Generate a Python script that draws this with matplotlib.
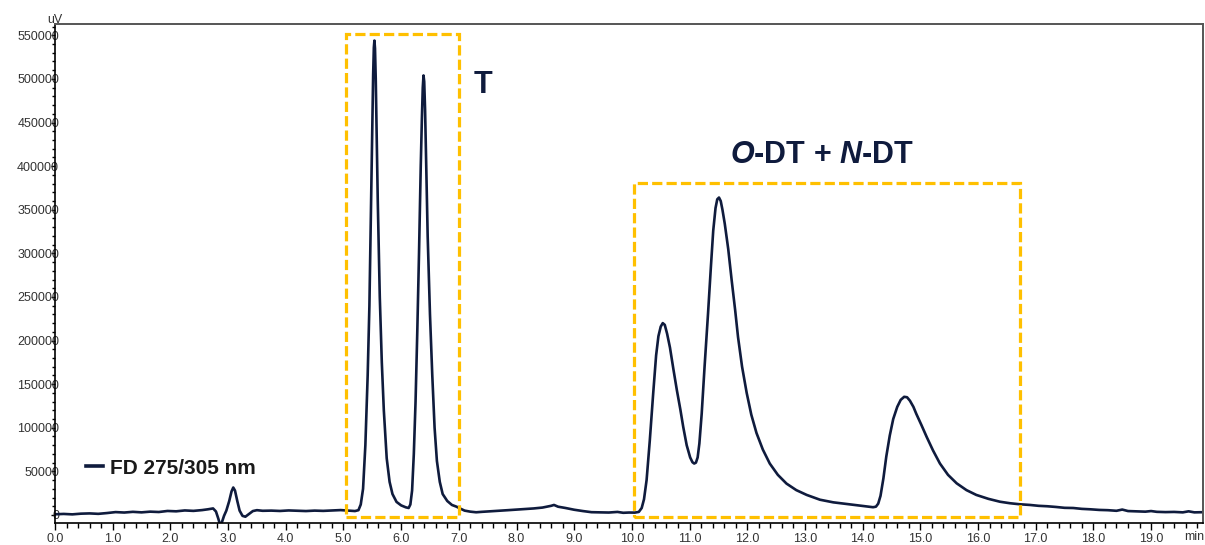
import matplotlib
matplotlib.use("Agg")
import matplotlib.pyplot as plt
from matplotlib.ticker import MultipleLocator
from matplotlib.patches import Rectangle

plt.rcParams['font.family'] = ['Liberation Sans', 'DejaVu Sans']
plt.rcParams['mathtext.fontset'] = 'custom'
plt.rcParams['mathtext.rm'] = 'Liberation Sans'
plt.rcParams['mathtext.bf'] = 'Liberation Sans:bold'
plt.rcParams['mathtext.bfit'] = 'Liberation Sans:bold:italic'

# retention time (min) and detector signal (uV)
time_min = [
    0.0, 0.15, 0.3, 0.45, 0.6, 0.75, 0.9, 1.05, 1.2, 1.35, 1.5, 1.65, 1.8, 1.95,
    2.1, 2.25, 2.4, 2.55, 2.65, 2.74, 2.79, 2.83, 2.86, 2.89, 2.93, 2.97, 3.02,
    3.06, 3.09, 3.12, 3.16, 3.2, 3.25, 3.3, 3.36, 3.43, 3.5, 3.6, 3.75, 3.9,
    4.05, 4.2, 4.35, 4.5, 4.65, 4.8, 4.95, 5.1, 5.2, 5.26,
    5.30, 5.34, 5.38, 5.42, 5.45, 5.48, 5.50, 5.515, 5.527, 5.537, 5.547, 5.56,
    5.575, 5.595, 5.63, 5.665, 5.70, 5.75, 5.80, 5.85, 5.92, 6.0, 6.08, 6.13,
    6.16, 6.19, 6.22, 6.25, 6.28, 6.31, 6.34, 6.36, 6.375, 6.388, 6.40, 6.415,
    6.435, 6.46, 6.50, 6.54, 6.58, 6.62, 6.67, 6.72, 6.80, 6.88, 6.96, 7.02,
    7.1, 7.2, 7.3, 7.4, 7.55, 7.7, 7.85, 8.0, 8.15, 8.3, 8.45, 8.6, 8.65, 8.72,
    8.85, 9.0, 9.15, 9.3, 9.45, 9.6, 9.75, 9.85, 9.95, 10.05, 10.12,
    10.17, 10.21, 10.255, 10.31, 10.37, 10.42, 10.46, 10.50, 10.535, 10.57,
    10.61, 10.66, 10.72, 10.78, 10.84, 10.89, 10.95, 11.01, 11.05, 11.08,
    11.11, 11.14, 11.17, 11.21, 11.26, 11.32, 11.37, 11.41, 11.45, 11.48,
    11.51, 11.54, 11.57, 11.61, 11.67, 11.73, 11.79, 11.84, 11.91, 11.99,
    12.07, 12.16, 12.27, 12.39, 12.53, 12.68, 12.85, 13.03, 13.26, 13.49,
    13.7, 13.89, 14.02, 14.12, 14.18, 14.23, 14.27, 14.31, 14.36, 14.41,
    14.47, 14.53, 14.6, 14.66, 14.72, 14.77, 14.82, 14.88, 14.93, 15.02,
    15.11, 15.22, 15.34, 15.48, 15.63, 15.8, 15.97, 16.18, 16.38, 16.55,
    16.72, 16.9, 17.05, 17.2, 17.35, 17.5, 17.65, 17.8, 17.95, 18.1, 18.25,
    18.4, 18.5, 18.6, 18.75, 18.9, 19.0, 19.1, 19.25, 19.4, 19.55, 19.65,
    19.75, 19.9,
]
signal_uv = [
    800, 1200, 700, 1500, 1800, 1300, 2200, 3300, 2800, 3600, 3000, 3800, 3400, 4600,
    4200, 5200, 4700, 5600, 6500, 7500, 4000, -4000, -11000, -9000, -1000, 5000, 16000,
    27000, 31500, 28000, 16000, 5000, -1000, -2000, 1000, 4500, 5500, 4800, 5000, 4600,
    5200, 4800, 4500, 5000, 4700, 5200, 5600, 5000, 4500, 5500,
    12000, 30000, 80000, 160000, 240000, 360000, 440000, 505000, 536000, 544000, 535000, 500000,
    440000, 360000, 250000, 175000, 120000, 65000, 38000, 24000, 15000, 11000, 8800, 8000,
    12000, 28000, 70000, 130000, 210000, 300000, 400000, 455000, 490000, 504000, 497000, 465000,
    400000, 320000, 230000, 160000, 100000, 62000, 38000, 24000, 16000, 11500, 9500, 7500,
    5000, 3800, 3100, 3600, 4200, 4800, 5500, 6200, 6800, 7500, 8500, 10500, 11500, 9500,
    8000, 6000, 4500, 3200, 3000, 2800, 3500, 2500, 2800, 2700, 3500,
    8000, 18000, 40000, 85000, 140000, 183000, 205000, 216000, 220000, 218000,
    208000, 192000, 167000, 143000, 121000, 101000, 80000, 66000, 60500, 59000,
    60000, 66000, 82000, 116000, 170000, 231000, 285000, 326000, 352000, 362000,
    364000, 360000, 350000, 334000, 305000, 269000, 235000, 204000, 170000, 140000,
    115000, 94000, 75000, 59000, 46000, 36000, 28500, 23000, 17500, 14500,
    12800, 11300, 10200, 9300, 8900, 9500, 13000, 22000, 42000, 67000,
    91000, 110000, 124000, 132000, 135500, 135000, 131000, 124000, 116000, 103000,
    89500, 74000, 59000, 46000, 36300, 28500, 23000, 18500, 15200, 13500,
    12300, 11500, 10500, 10000, 9200, 8200, 8000, 7000, 6500, 5800, 5500,
    4800, 6200, 4500, 4200, 3800, 4500, 3600, 3300, 3500, 3000, 4200,
    3000, 3200,
]

series_label = "FD 275/305 nm"
group_labels = ["T", r"$\mathbfit{O}$-DT + $\mathbfit{N}$-DT"]

navy = "#0f1b3d"
gold = "#ffc000"

fig = plt.figure(figsize=(12.05, 5.45), dpi=100)
ax = fig.add_axes([55 / 1205, 22 / 545, 1148 / 1205, 499 / 545])

ax.plot(time_min, signal_uv, color=navy, lw=1.9, label=series_label,
        solid_joinstyle="round")

ax.set_xlim(0, 19.9)
ax.set_ylim(-9200, 563000)

ax.xaxis.set_major_locator(MultipleLocator(1.0))
ax.xaxis.set_minor_locator(MultipleLocator(0.2))
ax.yaxis.set_major_locator(MultipleLocator(50000))
ax.yaxis.set_minor_locator(MultipleLocator(10000))
ax.xaxis.set_major_formatter(matplotlib.ticker.FormatStrFormatter("%.1f"))
ax.yaxis.set_major_formatter(matplotlib.ticker.FormatStrFormatter("%d"))

ax.tick_params(axis="x", which="major", direction="out", length=5, width=1,
               pad=2, labelsize=9, labelcolor="#333333")
ax.tick_params(axis="x", which="minor", direction="out", length=3.5, width=1)
ax.tick_params(axis="y", which="major", direction="out", length=3, width=1,
               pad=-6, labelsize=9, labelcolor="#333333")
ax.tick_params(axis="y", which="minor", direction="out", length=2.5, width=1)

for side in ["left", "bottom"]:
    ax.spines[side].set_color("black")
    ax.spines[side].set_linewidth(1.2)
for side in ["top", "right"]:
    ax.spines[side].set_color("#555555")
    ax.spines[side].set_linewidth(1.4)
ax.set_zorder(1)
ax.patch.set_visible(False)

# dashed boxes around peak groups
box_t = (5.04, -2300, 7.0 - 5.04, 551600 + 2300)
box_dt = (10.03, -2300, 16.72 - 10.03, 380700 + 2300)
for (x0, y0, w, h) in [box_t, box_dt]:
    ax.add_patch(Rectangle((x0, y0), w, h, fill=False, edgecolor=gold,
                           lw=2.3, linestyle=(0, (3.2, 1.3)), zorder=3))

ax.text(7.42, 493000, group_labels[0], fontsize=22, fontweight="bold",
        color=navy, ha="center", va="center")
ax.text(13.29, 413000, group_labels[1], fontsize=22, fontweight="bold",
        color=navy, ha="center", va="center")

leg = ax.legend(loc="center left", bbox_to_anchor=(0.027, 0.110),
                frameon=False, borderpad=0, borderaxespad=0,
                handlelength=0.8, handletextpad=0.35,
                prop={"size": 15, "weight": "bold"})
leg.get_lines()[0].set_linewidth(2.6)
leg.get_texts()[0].set_color("#1a1a1a")

fig.text(47 / 1205, 1 - 20 / 545, "uV", fontsize=9, color="#333333",
         ha="left", va="center")
fig.text(1204 / 1205, 1 - 537 / 545, "min", fontsize=9, color="#333333",
         ha="right", va="center")

fig.savefig("out.png", dpi=100)
